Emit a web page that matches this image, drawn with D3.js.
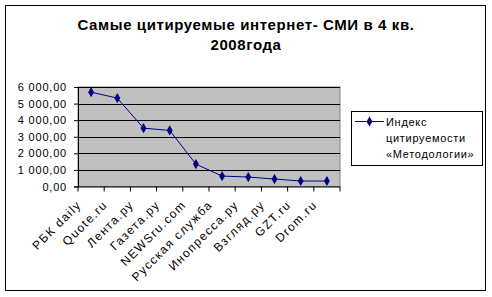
<!DOCTYPE html>
<html><head><meta charset="utf-8">
<script src="https://cdn.jsdelivr.net/npm/d3@7/dist/d3.min.js"></script>
<style>
body{margin:0;background:#fff;}
text{font-family:Arial,"Liberation Sans",sans-serif;}
</style></head>
<body><svg id="c" width="492" height="297"></svg>
<script>
const titleLines = ["Самые цитируемые интернет- СМИ в 4 кв.", "2008года"];
const categories = ["РБК daily","Quote.ru","Лента.ру","Газета.ру","NEWSru.com","Русская служба","Инопресса.ру","Взгляд.ру","GZT.ru","Drom.ru"];
const values = [5690, 5330, 3520, 3380, 1350, 630, 570, 450, 330, 330];
const yTicks = [0,1000,2000,3000,4000,5000,6000];
const seriesName = ["Индекс","цитируемости","«Методологии»"];

const svg = d3.select("#c");
svg.append("rect").attr("x",5.5).attr("y",5.5).attr("width",480).attr("height",285)
  .attr("fill","#fff").attr("stroke","#000").attr("stroke-width",1);

const tg = svg.append("text").attr("text-anchor","middle").attr("font-weight","bold")
  .attr("font-size",15).attr("letter-spacing",0.6);
titleLines.forEach((t,i)=>tg.append("tspan").attr("x",246).attr("y",30+i*20).text(t));

const L=78, R=340, T=87, B=186.5;
const x = d3.scaleBand().domain(categories).range([L,R]);
const y = d3.scaleLinear().domain([0,6000]).range([B,T]);

svg.append("rect").attr("x",L).attr("y",T).attr("width",R-L).attr("height",B-T)
  .attr("fill","#c0c0c0").attr("stroke","#808080");

svg.append("g").selectAll("line").data(yTicks.slice(1)).join("line")
  .attr("x1",L).attr("x2",R).attr("y1",d=>Math.round(y(d))+0.5).attr("y2",d=>Math.round(y(d))+0.5)
  .attr("stroke","#000");

const fmt = v => d3.format(",.2f")(v).replace(/,/g," ").replace(".",",");

const ya = svg.append("g").attr("transform",`translate(${L},0)`)
  .call(d3.axisLeft(y).tickValues(yTicks).tickSize(4).tickFormat(fmt));
ya.select(".domain").attr("stroke","#000");
ya.selectAll("text").attr("font-size",11).attr("letter-spacing",0.8).attr("font-family","Arial, 'Liberation Sans'").attr("fill","#000").attr("dx",-4);

const xa = svg.append("g").attr("transform",`translate(0,${B})`);
xa.append("line").attr("x1",L).attr("x2",R).attr("y1",0.5).attr("y2",0.5).attr("stroke","#000");
xa.selectAll("line.t").data(d3.range(categories.length+1)).join("line").attr("class","t")
  .attr("x1",i=>L+i*x.step()).attr("x2",i=>L+i*x.step()).attr("y1",0).attr("y2",5).attr("stroke","#000");
xa.selectAll("text").data(categories).join("text")
  .attr("font-size",12).attr("letter-spacing",1.4).attr("text-anchor","end")
  .attr("transform",d=>`translate(${x(d)+x.bandwidth()/2-9},${19}) rotate(-45)`)
  .text(d=>d);

const line = d3.line().x((d,i)=>x(categories[i])+x.bandwidth()/2).y(d=>y(d));
svg.append("path").datum(values).attr("d",line).attr("fill","none").attr("stroke","#000080").attr("stroke-width",1);
const diamond = d3.symbol().type(d3.symbolDiamond).size(30);
svg.append("g").selectAll("path").data(values).join("path")
  .attr("d",diamond).attr("fill","#000080")
  .attr("transform",(d,i)=>`translate(${x(categories[i])+x.bandwidth()/2},${y(d)})`);

// legend
const lg = svg.append("g");
lg.append("rect").attr("x",351.5).attr("y",111.5).attr("width",131).attr("height",54).attr("fill","#fff").attr("stroke","#000");
lg.append("line").attr("x1",355).attr("x2",384).attr("y1",121.5).attr("y2",121.5).attr("stroke","#000080");
lg.append("path").attr("d",diamond).attr("fill","#000080").attr("transform","translate(369.5,121.5)");
lg.selectAll("text").data(seriesName).join("text").attr("x",386).attr("y",(d,i)=>126+i*16)
  .attr("font-size",11).attr("letter-spacing",0.7).text(d=>d);
</script></body></html>
